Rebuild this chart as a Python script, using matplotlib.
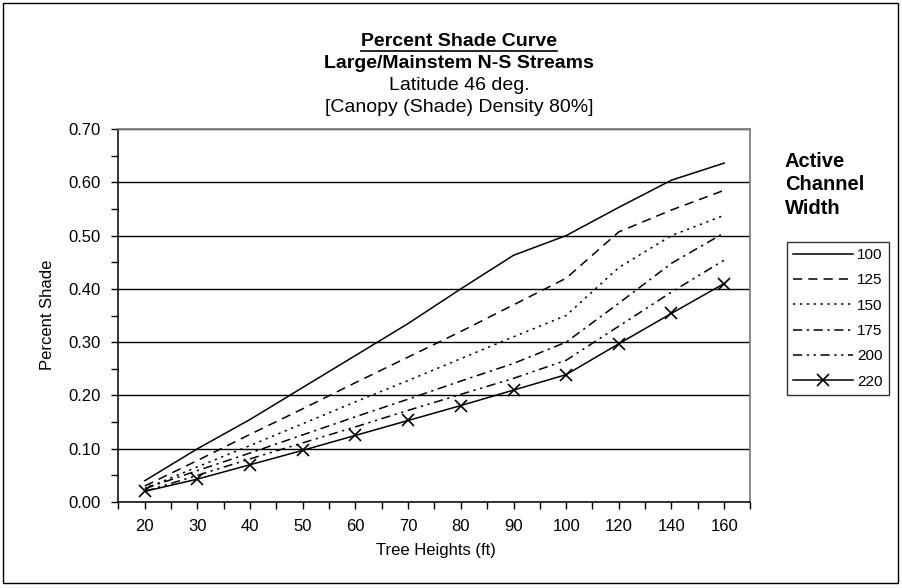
import numpy as np
import matplotlib.pyplot as plt
from matplotlib.patches import Rectangle

plt.rcParams['font.family'] = ['Liberation Sans', 'DejaVu Sans']

heights = ['20', '30', '40', '50', '60', '70', '80', '90', '100', '120', '140', '160']
widths = ['100', '125', '150', '175', '200', '220']

shade_100 = [0.040, 0.100, 0.155, 0.215, 0.275, 0.335, 0.400, 0.463, 0.500, 0.553, 0.604, 0.636]
shade_125 = [0.030, 0.078, 0.127, 0.175, 0.224, 0.272, 0.320, 0.370, 0.420, 0.507, 0.548, 0.585]
shade_150 = [0.025, 0.066, 0.106, 0.147, 0.188, 0.228, 0.269, 0.310, 0.350, 0.440, 0.500, 0.538]
shade_175 = [0.025, 0.059, 0.092, 0.126, 0.160, 0.193, 0.227, 0.260, 0.300, 0.373, 0.448, 0.505]
shade_200 = [0.020, 0.050, 0.081, 0.111, 0.141, 0.172, 0.202, 0.232, 0.266, 0.330, 0.394, 0.454]
shade_220 = [0.020, 0.043, 0.070, 0.097, 0.125, 0.153, 0.181, 0.210, 0.239, 0.297, 0.354, 0.410]

series = [shade_100, shade_125, shade_150, shade_175, shade_200, shade_220]
styles = ['-', (0, (6, 4)), (0, (1.5, 3)), (0, (6, 3, 1.5, 3)), (0, (6, 3, 1.5, 3, 1.5, 3)), '-']

W, H = 903, 588
fig = plt.figure(figsize=(W / 100, H / 100), dpi=100)
ax = fig.add_axes([118.5 / W, 1 - 502 / H, 632 / W, 373 / H])

x = np.arange(len(heights))
lines = []
for vals, ls, lab in zip(series, styles, widths):
    mk = 'x' if lab == '220' else None
    ln, = ax.plot(x, vals, color='black', lw=1.1, linestyle=ls, marker=mk,
                  markersize=8, markeredgewidth=1.2, label=lab)
    lines.append(ln)

ax.set_xlim(-0.5, len(heights) - 0.5)
ax.set_ylim(0, 0.70)
ax.set_xticks(x)
ax.set_xticklabels(heights)
ax.set_xticks(np.arange(-0.5, len(heights), 1), minor=True)
ax.tick_params(axis='x', which='both', length=5, width=1, direction='out')
ax.tick_params(axis='x', which='major', pad=7, labelsize=12)
ax.set_yticks(np.arange(0, 0.71, 0.1))
ax.set_yticklabels(['%.2f' % v for v in np.arange(0, 0.71, 0.1)])
ax.set_yticks(np.arange(0, 0.71, 0.05), minor=True)
ax.tick_params(axis='y', which='both', length=5, width=1, direction='out')
ax.tick_params(axis='y', which='major', pad=8, labelsize=12)
ax.yaxis.grid(True, color='black', lw=1)
ax.set_axisbelow(True)

for s in ['top', 'right']:
    ax.spines[s].set_color('#808080')
    ax.spines[s].set_linewidth(1.3)
for s in ['left', 'bottom']:
    ax.spines[s].set_color('black')
    ax.spines[s].set_linewidth(1.1)

fig.text(436 / W, 1 - 550 / H, 'Tree Heights (ft)', ha='center', va='center', fontsize=12)
fig.text(47 / W, 1 - 315 / H, 'Percent Shade', ha='center', va='center', rotation=90, fontsize=12)

cx = 459 / W
t1 = fig.text(cx, 1 - 42 / H, 'Percent Shade Curve', ha='center', va='center',
              fontsize=14, fontweight='bold')
fig.text(cx, 1 - 63 / H, 'Large/Mainstem N-S Streams', ha='center', va='center',
         fontsize=14, fontweight='bold')
fig.text(cx, 1 - 85 / H, 'Latitude 46 deg.', ha='center', va='center', fontsize=14)
fig.text(cx, 1 - 107 / H, '[Canopy (Shade) Density 80%]', ha='center', va='center', fontsize=14)

# underline for first title line
fig.canvas.draw()
bb = t1.get_window_extent().transformed(fig.transFigure.inverted())
fig.add_artist(plt.Line2D([bb.x0, bb.x1], [1 - 51 / H, 1 - 51 / H], color='black', lw=1.2,
                          transform=fig.transFigure))

fig.text(785 / W, 1 - 185 / H, 'Active\nChannel\nWidth', ha='left', va='center',
         fontsize=14.5, fontweight='bold', linespacing=1.3)

leg = fig.legend(handles=lines, loc='upper left', bbox_to_anchor=(787 / W, 1 - 242 / H),
                 fontsize=11, handlelength=3.9, handletextpad=0.3, labelspacing=0.74,
                 borderpad=0.4, borderaxespad=0, fancybox=False, frameon=True)
leg.get_frame().set_edgecolor('black')
leg.get_frame().set_linewidth(1)

fig.add_artist(Rectangle((3 / W, 5 / H), 895 / W, 580 / H, transform=fig.transFigure,
                         fill=False, edgecolor='black', lw=1))

fig.savefig('out.png', dpi=100)
